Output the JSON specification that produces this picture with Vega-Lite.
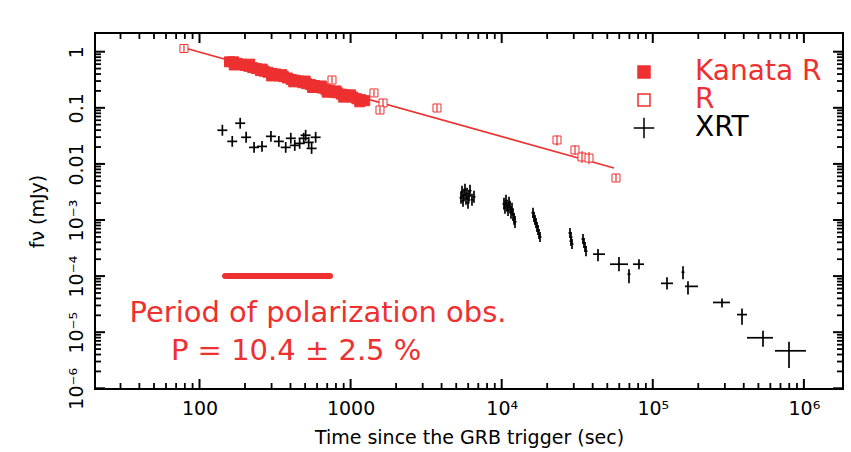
{
  "$schema": "https://vega.github.io/schema/vega-lite/v6.json",
  "width": 748,
  "height": 356,
  "autosize": {"type": "none"},
  "padding": {"left": 95, "top": 33, "right": 8, "bottom": 63},
  "background": "white",
  "config": {
    "view": {"stroke": "black", "strokeWidth": 2},
    "font": "DejaVu Sans",
    "axis": {
      "grid": false, "domain": false, "ticks": false, "tickSize": 0,
      "labelColor": "black", "titleColor": "black", "labelFont": "DejaVu Sans", "titleFont": "DejaVu Sans",
      "labelFontSize": 19, "titleFontSize": 19, "titleFontWeight": "normal"
    }
  },
  "datasets": {
    "xmajor": [{"v": 100}, {"v": 1000}, {"v": 10000}, {"v": 100000}, {"v": 1000000}],
    "xminor": [{"v": 30}, {"v": 40}, {"v": 50}, {"v": 60}, {"v": 70}, {"v": 80}, {"v": 90},
      {"v": 200}, {"v": 300}, {"v": 400}, {"v": 500}, {"v": 600}, {"v": 700}, {"v": 800}, {"v": 900},
      {"v": 2000}, {"v": 3000}, {"v": 4000}, {"v": 5000}, {"v": 6000}, {"v": 7000}, {"v": 8000}, {"v": 9000},
      {"v": 20000}, {"v": 30000}, {"v": 40000}, {"v": 50000}, {"v": 60000}, {"v": 70000}, {"v": 80000}, {"v": 90000},
      {"v": 200000}, {"v": 300000}, {"v": 400000}, {"v": 500000}, {"v": 600000}, {"v": 700000}, {"v": 800000}, {"v": 900000}],
    "ymajor": [{"v": 0.000001}, {"v": 0.00001}, {"v": 0.0001}, {"v": 0.001}, {"v": 0.01}, {"v": 0.1}, {"v": 1}],
    "yminor": [{"v": 0.000002}, {"v": 0.000003}, {"v": 0.000004}, {"v": 0.000005}, {"v": 0.000006}, {"v": 0.000007}, {"v": 0.000008}, {"v": 0.000009},
      {"v": 0.00002}, {"v": 0.00003}, {"v": 0.00004}, {"v": 0.00005}, {"v": 0.00006}, {"v": 0.00007}, {"v": 0.00008}, {"v": 0.00009},
      {"v": 0.0002}, {"v": 0.0003}, {"v": 0.0004}, {"v": 0.0005}, {"v": 0.0006}, {"v": 0.0007}, {"v": 0.0008}, {"v": 0.0009},
      {"v": 0.002}, {"v": 0.003}, {"v": 0.004}, {"v": 0.005}, {"v": 0.006}, {"v": 0.007}, {"v": 0.008}, {"v": 0.009},
      {"v": 0.02}, {"v": 0.03}, {"v": 0.04}, {"v": 0.05}, {"v": 0.06}, {"v": 0.07}, {"v": 0.08}, {"v": 0.09},
      {"v": 0.2}, {"v": 0.3}, {"v": 0.4}, {"v": 0.5}, {"v": 0.6}, {"v": 0.7}, {"v": 0.8}, {"v": 0.9}],
    "fit": [{"t": 77.8, "f": 1.19}, {"t": 55360, "f": 0.00845}],
    "pol": [{"t": 147.6, "f": 0.0001}, {"t": 731, "f": 0.0001}],
    "kanata": [
      {"series": "Kanata R", "t": 158, "f": 0.66}, {"series": "Kanata R", "t": 168, "f": 0.66}, {"series": "Kanata R", "t": 170, "f": 0.58},
      {"series": "Kanata R", "t": 178, "f": 0.62}, {"series": "Kanata R", "t": 189, "f": 0.60}, {"series": "Kanata R", "t": 200, "f": 0.57},
      {"series": "Kanata R", "t": 212, "f": 0.55}, {"series": "Kanata R", "t": 215, "f": 0.60}, {"series": "Kanata R", "t": 225, "f": 0.52},
      {"series": "Kanata R", "t": 238, "f": 0.50}, {"series": "Kanata R", "t": 253, "f": 0.46}, {"series": "Kanata R", "t": 260, "f": 0.49},
      {"series": "Kanata R", "t": 268, "f": 0.45}, {"series": "Kanata R", "t": 284, "f": 0.43}, {"series": "Kanata R", "t": 300, "f": 0.37},
      {"series": "Kanata R", "t": 302, "f": 0.41}, {"series": "Kanata R", "t": 320, "f": 0.40}, {"series": "Kanata R", "t": 339, "f": 0.37},
      {"series": "Kanata R", "t": 350, "f": 0.39}, {"series": "Kanata R", "t": 360, "f": 0.36}, {"series": "Kanata R", "t": 382, "f": 0.34},
      {"series": "Kanata R", "t": 405, "f": 0.32}, {"series": "Kanata R", "t": 420, "f": 0.29}, {"series": "Kanata R", "t": 429, "f": 0.31},
      {"series": "Kanata R", "t": 455, "f": 0.30}, {"series": "Kanata R", "t": 483, "f": 0.28}, {"series": "Kanata R", "t": 500, "f": 0.30},
      {"series": "Kanata R", "t": 512, "f": 0.27}, {"series": "Kanata R", "t": 543, "f": 0.26}, {"series": "Kanata R", "t": 560, "f": 0.23},
      {"series": "Kanata R", "t": 576, "f": 0.25}, {"series": "Kanata R", "t": 611, "f": 0.23}, {"series": "Kanata R", "t": 640, "f": 0.245},
      {"series": "Kanata R", "t": 648, "f": 0.225}, {"series": "Kanata R", "t": 687, "f": 0.21}, {"series": "Kanata R", "t": 700, "f": 0.19},
      {"series": "Kanata R", "t": 729, "f": 0.205}, {"series": "Kanata R", "t": 773, "f": 0.19}, {"series": "Kanata R", "t": 800, "f": 0.20},
      {"series": "Kanata R", "t": 820, "f": 0.185}, {"series": "Kanata R", "t": 870, "f": 0.175}, {"series": "Kanata R", "t": 900, "f": 0.155},
      {"series": "Kanata R", "t": 922, "f": 0.17}, {"series": "Kanata R", "t": 978, "f": 0.16}, {"series": "Kanata R", "t": 1000, "f": 0.17},
      {"series": "Kanata R", "t": 1037, "f": 0.155}, {"series": "Kanata R", "t": 1100, "f": 0.145}, {"series": "Kanata R", "t": 1150, "f": 0.128},
      {"series": "Kanata R", "t": 1167, "f": 0.14}, {"series": "Kanata R", "t": 1240, "f": 0.134}
    ],
    "rband": [
      {"series": "R", "t": 78.9, "f": 1.14, "flo": 1.0, "fhi": 1.3},
      {"series": "R", "t": 753, "f": 0.313, "flo": 0.27, "fhi": 0.36},
      {"series": "R", "t": 1428, "f": 0.184, "flo": 0.16, "fhi": 0.21},
      {"series": "R", "t": 1639, "f": 0.122, "flo": 0.104, "fhi": 0.143},
      {"series": "R", "t": 1565, "f": 0.0914, "flo": 0.078, "fhi": 0.107},
      {"series": "R", "t": 3731, "f": 0.0993, "flo": 0.085, "fhi": 0.116},
      {"series": "R", "t": 23230, "f": 0.0267, "flo": 0.021, "fhi": 0.032},
      {"series": "R", "t": 30560, "f": 0.0177, "flo": 0.0145, "fhi": 0.0215},
      {"series": "R", "t": 34000, "f": 0.0133, "flo": 0.0104, "fhi": 0.017},
      {"series": "R", "t": 37830, "f": 0.0127, "flo": 0.0099, "fhi": 0.0163},
      {"series": "R", "t": 57080, "f": 0.00561, "flo": 0.0048, "fhi": 0.0066}
    ],
    "xrt": [
      {"t": 141.7, "tlo": 131.3, "thi": 152.9, "f": 0.0398, "flo": 0.0318, "fhi": 0.0498},
      {"t": 164.7, "tlo": 152.6, "thi": 177.7, "f": 0.0252, "flo": 0.0202, "fhi": 0.0315},
      {"t": 185.9, "tlo": 172.3, "thi": 200.6, "f": 0.0531, "flo": 0.0425, "fhi": 0.0664},
      {"t": 203.5, "tlo": 188.6, "thi": 219.6, "f": 0.0298, "flo": 0.0238, "fhi": 0.0373},
      {"t": 229.6, "tlo": 212.8, "thi": 247.7, "f": 0.0197, "flo": 0.0158, "fhi": 0.0246},
      {"t": 259.2, "tlo": 240.2, "thi": 279.7, "f": 0.0205, "flo": 0.0164, "fhi": 0.0256},
      {"t": 297, "tlo": 275.3, "thi": 320.5, "f": 0.031, "flo": 0.0248, "fhi": 0.0388},
      {"t": 335, "tlo": 310.5, "thi": 361.5, "f": 0.0252, "flo": 0.0202, "fhi": 0.0315},
      {"t": 372, "tlo": 344.8, "thi": 401.4, "f": 0.0197, "flo": 0.0158, "fhi": 0.0246},
      {"t": 402, "tlo": 372.6, "thi": 433.8, "f": 0.0286, "flo": 0.0229, "fhi": 0.0358},
      {"t": 427, "tlo": 395.7, "thi": 460.7, "f": 0.0214, "flo": 0.0171, "fhi": 0.0268},
      {"t": 460, "tlo": 426.3, "thi": 496.3, "f": 0.0232, "flo": 0.0186, "fhi": 0.029},
      {"t": 489, "tlo": 453.2, "thi": 527.6, "f": 0.0286, "flo": 0.0229, "fhi": 0.0358},
      {"t": 504, "tlo": 467.1, "thi": 543.8, "f": 0.0324, "flo": 0.0259, "fhi": 0.0405},
      {"t": 528, "tlo": 489.3, "thi": 569.7, "f": 0.0242, "flo": 0.0194, "fhi": 0.0303},
      {"t": 552, "tlo": 511.6, "thi": 595.6, "f": 0.0189, "flo": 0.0151, "fhi": 0.0236},
      {"t": 587, "tlo": 544.0, "thi": 633.4, "f": 0.0298, "flo": 0.0238, "fhi": 0.0373},
      {"t": 5378, "tlo": 5257, "thi": 5502, "f": 0.00249, "flo": 0.00195, "fhi": 0.00319},
      {"t": 5461, "tlo": 5338, "thi": 5587, "f": 0.0032, "flo": 0.0025, "fhi": 0.00409},
      {"t": 5545, "tlo": 5420, "thi": 5673, "f": 0.0022, "flo": 0.00172, "fhi": 0.00282},
      {"t": 5630, "tlo": 5503, "thi": 5760, "f": 0.00282, "flo": 0.0022, "fhi": 0.00361},
      {"t": 5717, "tlo": 5588, "thi": 5848, "f": 0.00347, "flo": 0.00271, "fhi": 0.00444},
      {"t": 5804, "tlo": 5673, "thi": 5937, "f": 0.00239, "flo": 0.00187, "fhi": 0.00306},
      {"t": 5893, "tlo": 5760, "thi": 6028, "f": 0.00294, "flo": 0.0023, "fhi": 0.00376},
      {"t": 5984, "tlo": 5849, "thi": 6122, "f": 0.00203, "flo": 0.00158, "fhi": 0.0026},
      {"t": 6076, "tlo": 5939, "thi": 6216, "f": 0.00271, "flo": 0.00211, "fhi": 0.00347},
      {"t": 6169, "tlo": 6030, "thi": 6311, "f": 0.00333, "flo": 0.0026, "fhi": 0.00426},
      {"t": 6359, "tlo": 6216, "thi": 6505, "f": 0.0023, "flo": 0.00179, "fhi": 0.00294},
      {"t": 6556, "tlo": 6408, "thi": 6707, "f": 0.0026, "flo": 0.00203, "fhi": 0.00333},
      {"t": 10356, "tlo": 10123, "thi": 10594, "f": 0.001945, "flo": 0.00152, "fhi": 0.00249},
      {"t": 10515, "tlo": 10278, "thi": 10757, "f": 0.001649, "flo": 0.00129, "fhi": 0.00211},
      {"t": 10678, "tlo": 10438, "thi": 10924, "f": 0.002202, "flo": 0.00172, "fhi": 0.00282},
      {"t": 10842, "tlo": 10598, "thi": 11091, "f": 0.001791, "flo": 0.0014, "fhi": 0.00229},
      {"t": 11008, "tlo": 10760, "thi": 11261, "f": 0.001518, "flo": 0.00118, "fhi": 0.00194},
      {"t": 11178, "tlo": 10926, "thi": 11435, "f": 0.002028, "flo": 0.00158, "fhi": 0.0026},
      {"t": 11349, "tlo": 11094, "thi": 11610, "f": 0.001718, "flo": 0.00134, "fhi": 0.0022},
      {"t": 11524, "tlo": 11265, "thi": 11789, "f": 0.001341, "flo": 0.00105, "fhi": 0.00172},
      {"t": 11702, "tlo": 11439, "thi": 11971, "f": 0.001582, "flo": 0.00124, "fhi": 0.00203},
      {"t": 11882, "tlo": 11615, "thi": 12155, "f": 0.001235, "flo": 0.00096, "fhi": 0.00158},
      {"t": 12065, "tlo": 11794, "thi": 12342, "f": 0.001046, "flo": 0.00082, "fhi": 0.00134},
      {"t": 12250, "tlo": 11974, "thi": 12532, "f": 0.000924, "flo": 0.00072, "fhi": 0.00118},
      {"t": 16110, "tlo": 15748, "thi": 16480, "f": 0.001341, "flo": 0.00109, "fhi": 0.00165},
      {"t": 16360, "tlo": 15992, "thi": 16736, "f": 0.001137, "flo": 0.000925, "fhi": 0.001397},
      {"t": 16610, "tlo": 16236, "thi": 16992, "f": 0.001004, "flo": 0.000817, "fhi": 0.001234},
      {"t": 16870, "tlo": 16491, "thi": 17258, "f": 0.000887, "flo": 0.000722, "fhi": 0.00109},
      {"t": 17130, "tlo": 16745, "thi": 17524, "f": 0.000752, "flo": 0.000612, "fhi": 0.000924},
      {"t": 17390, "tlo": 16999, "thi": 17790, "f": 0.000664, "flo": 0.00054, "fhi": 0.000816},
      {"t": 17660, "tlo": 17263, "thi": 18066, "f": 0.000563, "flo": 0.000458, "fhi": 0.000692},
      {"t": 17930, "tlo": 17527, "thi": 18342, "f": 0.000497, "flo": 0.000404, "fhi": 0.000611},
      {"t": 28310, "tlo": 27674, "thi": 28961, "f": 0.000587, "flo": 0.000478, "fhi": 0.000721},
      {"t": 28740, "tlo": 28094, "thi": 29401, "f": 0.000497, "flo": 0.000404, "fhi": 0.000611},
      {"t": 28740, "tlo": 28094, "thi": 29401, "f": 0.000421, "flo": 0.000343, "fhi": 0.000517},
      {"t": 29190, "tlo": 28534, "thi": 29861, "f": 0.000372, "flo": 0.000303, "fhi": 0.000457},
      {"t": 34520, "tlo": 33744, "thi": 35314, "f": 0.000458, "flo": 0.000373, "fhi": 0.000563},
      {"t": 35050, "tlo": 34262, "thi": 35856, "f": 0.000388, "flo": 0.000316, "fhi": 0.000477},
      {"t": 35590, "tlo": 34790, "thi": 36409, "f": 0.000329, "flo": 0.000268, "fhi": 0.000404},
      {"t": 36140, "tlo": 35328, "thi": 36971, "f": 0.000279, "flo": 0.000227, "fhi": 0.000343},
      {"t": 43380, "tlo": 40210, "thi": 48280, "f": 0.000246, "flo": 0.000184, "fhi": 0.000303},
      {"t": 59730, "tlo": 52080, "thi": 68520, "f": 0.000163, "flo": 0.000122, "fhi": 0.000218},
      {"t": 69570, "tlo": 68000, "thi": 71200, "f": 0.000108, "flo": 0.0000743, "fhi": 0.000132},
      {"t": 81040, "tlo": 73960, "thi": 87460, "f": 0.000163, "flo": 0.000132, "fhi": 0.0002},
      {"t": 124200, "tlo": 113300, "thi": 136100, "f": 0.0000743, "flo": 0.000058, "fhi": 0.000095},
      {"t": 158500, "tlo": 154900, "thi": 162100, "f": 0.000117, "flo": 0.0000877, "fhi": 0.00015},
      {"t": 171000, "tlo": 163400, "thi": 199200, "f": 0.0000656, "flo": 0.0000471, "fhi": 0.0000807},
      {"t": 287100, "tlo": 250200, "thi": 324300, "f": 0.0000339, "flo": 0.0000275, "fhi": 0.0000399},
      {"t": 389500, "tlo": 360800, "thi": 420200, "f": 0.0000206, "flo": 0.0000136, "fhi": 0.0000264},
      {"t": 536300, "tlo": 420200, "thi": 624400, "f": 0.00000796, "flo": 0.00000549, "fhi": 0.0000106},
      {"t": 797100, "tlo": 643800, "thi": 1032000, "f": 0.00000466, "flo": 0.00000231, "fhi": 0.00000675}
    ],
    "notes": [
      {"label": "Period of polarization obs.", "t": 608, "f": 0.000022},
      {"label": "P = 10.4 ± 2.5 %", "t": 436, "f": 0.00000462}
    ]
  },
  "layer": [
    {
      "data": {"name": "fit"},
      "mark": {"type": "line", "color": "#ee3030", "strokeWidth": 1.6},
      "encoding": {
        "x": {"field": "t", "type": "quantitative", "scale": {"type": "log", "domain": [20.34, 1815000], "nice": false},
          "axis": {"orient": "bottom", "values": [100, 1000, 10000, 100000, 1000000], "labelPadding": 10,
            "labelFlush": false, "labelOverlap": false,
            "labelExpr": "datum.value >= 999999 ? '10⁶' : datum.value >= 99999 ? '10⁵' : datum.value >= 9999 ? '10⁴' : datum.value >= 999 ? '1000' : '100'",
            "title": "Time since the GRB trigger (sec)", "titlePadding": 10}},
        "y": {"field": "f", "type": "quantitative", "scale": {"type": "log", "domain": [9.716e-7, 2.156], "nice": false},
          "axis": {"orient": "left", "values": [0.000001, 0.00001, 0.0001, 0.001, 0.01, 0.1, 1], "labelPadding": 9,
            "labelAngle": -90, "labelAlign": "center", "labelBaseline": "bottom", "labelFlush": false, "labelOverlap": false,
            "labelExpr": "datum.value > 0.5 ? '1' : datum.value > 0.05 ? '0.1' : datum.value > 0.005 ? '0.01' : datum.value > 0.0005 ? '10⁻³' : datum.value > 0.00005 ? '10⁻⁴' : datum.value > 0.000005 ? '10⁻⁵' : '10⁻⁶'",
            "title": "fν (mJy)", "titlePadding": 20}}
      }
    },
    {
      "data": {"name": "xmajor"},
      "mark": {"type": "tick", "orient": "vertical", "size": 10, "thickness": 2, "color": "black", "opacity": 1, "yOffset": -5},
      "encoding": {
        "x": {"field": "v", "type": "quantitative", "scale": {"type": "log", "domain": [20.34, 1815000], "nice": false}},
        "y": {"datum": 9.716e-7, "type": "quantitative", "scale": {"type": "log", "domain": [9.716e-7, 2.156], "nice": false}}
      }
    },
    {
      "data": {"name": "xmajor"},
      "mark": {"type": "tick", "orient": "vertical", "size": 10, "thickness": 2, "color": "black", "opacity": 1, "yOffset": 5},
      "encoding": {
        "x": {"field": "v", "type": "quantitative", "scale": {"type": "log", "domain": [20.34, 1815000], "nice": false}},
        "y": {"datum": 2.156, "type": "quantitative", "scale": {"type": "log", "domain": [9.716e-7, 2.156], "nice": false}}
      }
    },
    {
      "data": {"name": "xminor"},
      "mark": {"type": "tick", "orient": "vertical", "size": 6, "thickness": 1.8, "color": "black", "opacity": 1, "yOffset": -3},
      "encoding": {
        "x": {"field": "v", "type": "quantitative", "scale": {"type": "log", "domain": [20.34, 1815000], "nice": false}},
        "y": {"datum": 9.716e-7, "type": "quantitative", "scale": {"type": "log", "domain": [9.716e-7, 2.156], "nice": false}}
      }
    },
    {
      "data": {"name": "xminor"},
      "mark": {"type": "tick", "orient": "vertical", "size": 6, "thickness": 1.8, "color": "black", "opacity": 1, "yOffset": 3},
      "encoding": {
        "x": {"field": "v", "type": "quantitative", "scale": {"type": "log", "domain": [20.34, 1815000], "nice": false}},
        "y": {"datum": 2.156, "type": "quantitative", "scale": {"type": "log", "domain": [9.716e-7, 2.156], "nice": false}}
      }
    },
    {
      "data": {"name": "ymajor"},
      "mark": {"type": "tick", "orient": "horizontal", "size": 10, "thickness": 2, "color": "black", "opacity": 1, "xOffset": 5},
      "encoding": {
        "x": {"datum": 20.34, "type": "quantitative", "scale": {"type": "log", "domain": [20.34, 1815000], "nice": false}},
        "y": {"field": "v", "type": "quantitative", "scale": {"type": "log", "domain": [9.716e-7, 2.156], "nice": false}}
      }
    },
    {
      "data": {"name": "ymajor"},
      "mark": {"type": "tick", "orient": "horizontal", "size": 10, "thickness": 2, "color": "black", "opacity": 1, "xOffset": -5},
      "encoding": {
        "x": {"datum": 1815000, "type": "quantitative", "scale": {"type": "log", "domain": [20.34, 1815000], "nice": false}},
        "y": {"field": "v", "type": "quantitative", "scale": {"type": "log", "domain": [9.716e-7, 2.156], "nice": false}}
      }
    },
    {
      "data": {"name": "yminor"},
      "mark": {"type": "tick", "orient": "horizontal", "size": 6, "thickness": 1.8, "color": "black", "opacity": 1, "xOffset": 3},
      "encoding": {
        "x": {"datum": 20.34, "type": "quantitative", "scale": {"type": "log", "domain": [20.34, 1815000], "nice": false}},
        "y": {"field": "v", "type": "quantitative", "scale": {"type": "log", "domain": [9.716e-7, 2.156], "nice": false}}
      }
    },
    {
      "data": {"name": "yminor"},
      "mark": {"type": "tick", "orient": "horizontal", "size": 6, "thickness": 1.8, "color": "black", "opacity": 1, "xOffset": -3},
      "encoding": {
        "x": {"datum": 1815000, "type": "quantitative", "scale": {"type": "log", "domain": [20.34, 1815000], "nice": false}},
        "y": {"field": "v", "type": "quantitative", "scale": {"type": "log", "domain": [9.716e-7, 2.156], "nice": false}}
      }
    },
    {
      "data": {"name": "pol"},
      "mark": {"type": "line", "color": "#ee3030", "strokeWidth": 6, "strokeCap": "round"},
      "encoding": {
        "x": {"field": "t", "type": "quantitative", "scale": {"type": "log", "domain": [20.34, 1815000], "nice": false}},
        "y": {"field": "f", "type": "quantitative", "scale": {"type": "log", "domain": [9.716e-7, 2.156], "nice": false}}
      }
    },
    {
      "data": {"name": "kanata"},
      "mark": {"type": "point", "size": 100, "strokeWidth": 1, "opacity": 1},
      "encoding": {
        "x": {"field": "t", "type": "quantitative", "scale": {"type": "log", "domain": [20.34, 1815000], "nice": false}},
        "y": {"field": "f", "type": "quantitative", "scale": {"type": "log", "domain": [9.716e-7, 2.156], "nice": false}},
        "shape": {"field": "series", "type": "nominal",
          "scale": {"domain": ["Kanata R", "R", "XRT"], "range": ["square", "square", "M-1.7,0L1.7,0M0,-1.7L0,1.7"]},
          "legend": {"title": null, "orient": "none", "legendX": 535, "legendY": 25, "padding": 0, "symbolSize": 144, "symbolStrokeWidth": 1.5,
            "labelFont": "DejaVu Sans", "labelFontSize": 28, "labelOffset": 37, "rowPadding": 0, "labelBaseline": "middle",
            "labelColor": {"expr": "datum.value == 'XRT' ? 'black' : '#ee3030'"}}},
        "fill": {"field": "series", "type": "nominal",
          "scale": {"domain": ["Kanata R", "R", "XRT"], "range": ["#ee3030", "#ffffff", "transparent"]},
          "legend": {"title": null, "orient": "none", "legendX": 535, "legendY": 25, "padding": 0, "symbolSize": 144, "symbolStrokeWidth": 1.5,
            "labelFont": "DejaVu Sans", "labelFontSize": 28, "labelOffset": 37, "rowPadding": 0, "labelBaseline": "middle",
            "labelColor": {"expr": "datum.value == 'XRT' ? 'black' : '#ee3030'"}}},
        "stroke": {"field": "series", "type": "nominal",
          "scale": {"domain": ["Kanata R", "R", "XRT"], "range": ["#ee3030", "#ee3030", "#000000"]},
          "legend": {"title": null, "orient": "none", "legendX": 535, "legendY": 25, "padding": 0, "symbolSize": 144, "symbolStrokeWidth": 1.5,
            "labelFont": "DejaVu Sans", "labelFontSize": 28, "labelOffset": 37, "rowPadding": 0, "labelBaseline": "middle",
            "labelColor": {"expr": "datum.value == 'XRT' ? 'black' : '#ee3030'"}}}
      }
    },
    {
      "data": {"name": "rband"},
      "mark": {"type": "point", "size": 64, "strokeWidth": 1, "opacity": 1},
      "encoding": {
        "x": {"field": "t", "type": "quantitative", "scale": {"type": "log", "domain": [20.34, 1815000], "nice": false}},
        "y": {"field": "f", "type": "quantitative", "scale": {"type": "log", "domain": [9.716e-7, 2.156], "nice": false}},
        "shape": {"field": "series", "type": "nominal", "scale": {"domain": ["Kanata R", "R", "XRT"], "range": ["square", "square", "M-1.7,0L1.7,0M0,-1.7L0,1.7"]},
          "legend": {"title": null, "orient": "none", "legendX": 535, "legendY": 25, "padding": 0, "symbolSize": 144, "symbolStrokeWidth": 1.5,
            "labelFont": "DejaVu Sans", "labelFontSize": 28, "labelOffset": 37, "rowPadding": 0, "labelBaseline": "middle",
            "labelColor": {"expr": "datum.value == 'XRT' ? 'black' : '#ee3030'"}}},
        "fill": {"field": "series", "type": "nominal", "scale": {"domain": ["Kanata R", "R", "XRT"], "range": ["#ee3030", "#ffffff", "transparent"]},
          "legend": {"title": null, "orient": "none", "legendX": 535, "legendY": 25, "padding": 0, "symbolSize": 144, "symbolStrokeWidth": 1.5,
            "labelFont": "DejaVu Sans", "labelFontSize": 28, "labelOffset": 37, "rowPadding": 0, "labelBaseline": "middle",
            "labelColor": {"expr": "datum.value == 'XRT' ? 'black' : '#ee3030'"}}},
        "stroke": {"field": "series", "type": "nominal", "scale": {"domain": ["Kanata R", "R", "XRT"], "range": ["#ee3030", "#ee3030", "#000000"]},
          "legend": {"title": null, "orient": "none", "legendX": 535, "legendY": 25, "padding": 0, "symbolSize": 144, "symbolStrokeWidth": 1.5,
            "labelFont": "DejaVu Sans", "labelFontSize": 28, "labelOffset": 37, "rowPadding": 0, "labelBaseline": "middle",
            "labelColor": {"expr": "datum.value == 'XRT' ? 'black' : '#ee3030'"}}}
      }
    },
    {
      "data": {"name": "rband"},
      "mark": {"type": "rule", "color": "#ee3030", "strokeWidth": 1.2},
      "encoding": {
        "x": {"field": "t", "type": "quantitative", "scale": {"type": "log", "domain": [20.34, 1815000], "nice": false}},
        "y": {"field": "flo", "type": "quantitative", "scale": {"type": "log", "domain": [9.716e-7, 2.156], "nice": false}},
        "y2": {"field": "fhi"}
      }
    },
    {
      "data": {"name": "xrt"},
      "mark": {"type": "rule", "color": "black", "strokeWidth": 1.7},
      "encoding": {
        "x": {"field": "tlo", "type": "quantitative", "scale": {"type": "log", "domain": [20.34, 1815000], "nice": false}},
        "x2": {"field": "thi"},
        "y": {"field": "f", "type": "quantitative", "scale": {"type": "log", "domain": [9.716e-7, 2.156], "nice": false}}
      }
    },
    {
      "data": {"name": "xrt"},
      "mark": {"type": "rule", "color": "black", "strokeWidth": 1.7},
      "encoding": {
        "x": {"field": "t", "type": "quantitative", "scale": {"type": "log", "domain": [20.34, 1815000], "nice": false}},
        "y": {"field": "flo", "type": "quantitative", "scale": {"type": "log", "domain": [9.716e-7, 2.156], "nice": false}},
        "y2": {"field": "fhi"}
      }
    },
    {
      "data": {"name": "notes"},
      "mark": {"type": "text", "color": "#ee3030", "fontSize": 29, "font": "DejaVu Sans", "align": "center", "baseline": "middle"},
      "encoding": {
        "x": {"field": "t", "type": "quantitative", "scale": {"type": "log", "domain": [20.34, 1815000], "nice": false}},
        "y": {"field": "f", "type": "quantitative", "scale": {"type": "log", "domain": [9.716e-7, 2.156], "nice": false}},
        "text": {"field": "label"}
      }
    }
  ]
}
